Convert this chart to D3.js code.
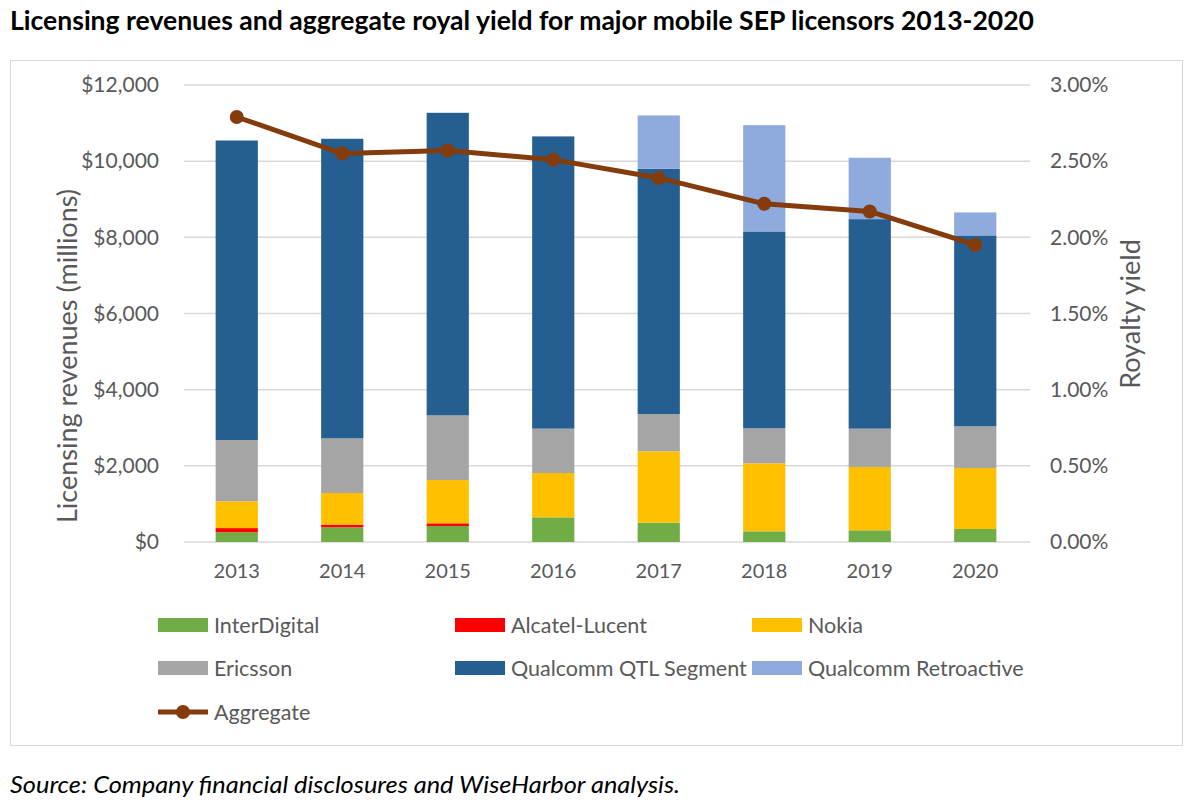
<!DOCTYPE html>
<html>
<head>
<meta charset="utf-8">
<script src="https://cdn.jsdelivr.net/npm/d3@7"></script>
<style>
  body { margin: 0; background: #fff; }
  text { font-family: Lato, "Open Sans", sans-serif; }
</style>
</head>
<body>
<div id="chart"></div>
<script>
// values ($ millions, yield in %)
var years = ["2013", "2014", "2015", "2016", "2017", "2018", "2019", "2020"];
var interDigital = [255, 386, 420, 648, 509, 281, 307, 341];
var alcatelLucent = [110, 71, 71, 0, 0, 0, 0, 0];
var nokia = [703, 829, 1136, 1163, 1872, 1785, 1662, 1601];
var ericsson = [1609, 1436, 1698, 1165, 979, 918, 1007, 1095];
var qualcommQTL = [7866, 7866, 7945, 7674, 6440, 5171, 5502, 5013];
var qualcommRetro = [0, 0, 0, 0, 1400, 2790, 1611, 604];
var aggregateYield = [2.79, 2.55, 2.57, 2.51, 2.39, 2.22, 2.17, 1.95];

var leftTicks = [0, 2000, 4000, 6000, 8000, 10000, 12000];
var rightTicks = [0, 0.5, 1, 1.5, 2, 2.5, 3];

var seriesNames = ["InterDigital", "Alcatel-Lucent", "Nokia", "Ericsson", "Qualcomm QTL Segment", "Qualcomm Retroactive"];
var seriesValues = [interDigital, alcatelLucent, nokia, ericsson, qualcommQTL, qualcommRetro];
var seriesColors = ["#70AD47", "#FF0000", "#FFC000", "#A5A5A5", "#255E91", "#8FAADC"];
var lineColor = "#843C0C";

var width = 1200, height = 806;
var plot = {left: 184, right: 1028, top: 85, bottom: 542};

var svg = d3.select("#chart").append("svg")
	.attr("width", width)
	.attr("height", height);

// title
svg.append("text")
	.attr("x", 10).attr("y", 30)
	.attr("font-size", 26).attr("font-weight", "bold")
	.attr("fill", "#000")
	.attr("textLength", 1024).attr("lengthAdjust", "spacingAndGlyphs")
	.text("Licensing revenues and aggregate royal yield for major mobile SEP licensors 2013-2020");

// chart frame
svg.append("rect")
	.attr("x", 10.5).attr("y", 60.5)
	.attr("width", 1172).attr("height", 685)
	.attr("fill", "none").attr("stroke", "#D9D9D9");

var x = d3.scaleBand().domain(years).range([plot.left, plot.right]).paddingInner(0.6).paddingOuter(0.3);
var yL = d3.scaleLinear().domain([0, 12000]).range([plot.bottom, plot.top]);
var yR = d3.scaleLinear().domain([0, 3]).range([plot.bottom, plot.top]);

// gridlines
svg.append("g").selectAll("line")
	.data(leftTicks)
	.join("line")
	.attr("x1", plot.left).attr("x2", plot.right + 2)
	.attr("y1", d => yL(d)).attr("y2", d => yL(d))
	.attr("stroke", "#D9D9D9").attr("stroke-width", 1.5);

// stacked bars
var table = years.map(function(yr, i) {
	var row = {year: yr};
	seriesNames.forEach((s, k) => row[s] = seriesValues[k][i]);
	return row;
});
var stack = d3.stack().keys(seriesNames)(table);

svg.append("g").selectAll("g")
	.data(stack)
	.join("g")
	.attr("fill", (d, i) => seriesColors[i])
	.selectAll("rect")
	.data(d => d)
	.join("rect")
	.attr("x", d => x(d.data.year))
	.attr("width", x.bandwidth())
	.attr("y", d => yL(d[1]))
	.attr("height", d => yL(d[0]) - yL(d[1]));

// left axis
var leftAxis = svg.append("g")
	.attr("transform", "translate(" + (plot.left - 22) + ",0)")
	.call(d3.axisLeft(yL).tickValues(leftTicks).tickSize(0).tickFormat(d => "$" + d3.format(",")(d)));
leftAxis.select(".domain").remove();
leftAxis.selectAll("text").attr("font-size", 21).attr("fill", "#595959").attr("font-family", "Lato, sans-serif");

// right axis
var rightAxis = svg.append("g")
	.attr("transform", "translate(" + (plot.right + 19) + ",0)")
	.call(d3.axisRight(yR).tickValues(rightTicks).tickSize(0).tickFormat(d => d3.format(".2f")(d) + "%"));
rightAxis.select(".domain").remove();
rightAxis.selectAll("text").attr("font-size", 21).attr("fill", "#595959").attr("font-family", "Lato, sans-serif");

// bottom axis
var bottomAxis = svg.append("g")
	.attr("transform", "translate(0," + (plot.bottom + 19) + ")")
	.call(d3.axisBottom(x).tickSize(0));
bottomAxis.select(".domain").remove();
bottomAxis.selectAll("text").attr("font-size", 20).attr("fill", "#595959").attr("font-family", "Lato, sans-serif");

// axis titles
svg.append("text")
	.attr("transform", "translate(77,356) rotate(-90)")
	.attr("text-anchor", "middle")
	.attr("font-size", 27).attr("fill", "#595959")
	.text("Licensing revenues (millions)");
svg.append("text")
	.attr("transform", "translate(1140,314) rotate(-90)")
	.attr("text-anchor", "middle")
	.attr("font-size", 27).attr("fill", "#595959")
	.text("Royalty yield");

// aggregate line
var line = d3.line()
	.x((d, i) => x(years[i]) + x.bandwidth() / 2)
	.y(d => yR(d));
svg.append("path")
	.attr("d", line(aggregateYield))
	.attr("fill", "none")
	.attr("stroke", lineColor)
	.attr("stroke-width", 5)
	.attr("stroke-linejoin", "round");
svg.append("g").selectAll("circle")
	.data(aggregateYield)
	.join("circle")
	.attr("cx", (d, i) => x(years[i]) + x.bandwidth() / 2)
	.attr("cy", d => yR(d))
	.attr("r", 7)
	.attr("fill", lineColor);

// legend
var legendCols = [158, 455, 752];
var legendRows = [625, 668, 712];
var legend = svg.append("g");
seriesNames.forEach(function(name, i) {
	var lx = legendCols[i % 3], ly = legendRows[Math.floor(i / 3)];
	legend.append("rect")
		.attr("x", lx).attr("y", ly - 7)
		.attr("width", 50).attr("height", 14)
		.attr("fill", seriesColors[i]);
	legend.append("text")
		.attr("x", lx + 56).attr("y", ly + 7.5)
		.attr("font-size", 21.5).attr("fill", "#595959")
		.text(name);
});
legend.append("line")
	.attr("x1", legendCols[0]).attr("x2", legendCols[0] + 50)
	.attr("y1", legendRows[2]).attr("y2", legendRows[2])
	.attr("stroke", lineColor).attr("stroke-width", 5);
legend.append("circle")
	.attr("cx", legendCols[0] + 25).attr("cy", legendRows[2])
	.attr("r", 7).attr("fill", lineColor);
legend.append("text")
	.attr("x", legendCols[0] + 56).attr("y", legendRows[2] + 7.5)
	.attr("font-size", 21.5).attr("fill", "#595959")
	.text("Aggregate");

// source note
svg.append("text")
	.attr("x", 10).attr("y", 793)
	.attr("font-size", 24).attr("font-style", "italic").attr("fill", "#000")
	.attr("textLength", 670).attr("lengthAdjust", "spacingAndGlyphs")
	.text("Source: Company financial disclosures and WiseHarbor analysis.");
</script>
</body>
</html>
